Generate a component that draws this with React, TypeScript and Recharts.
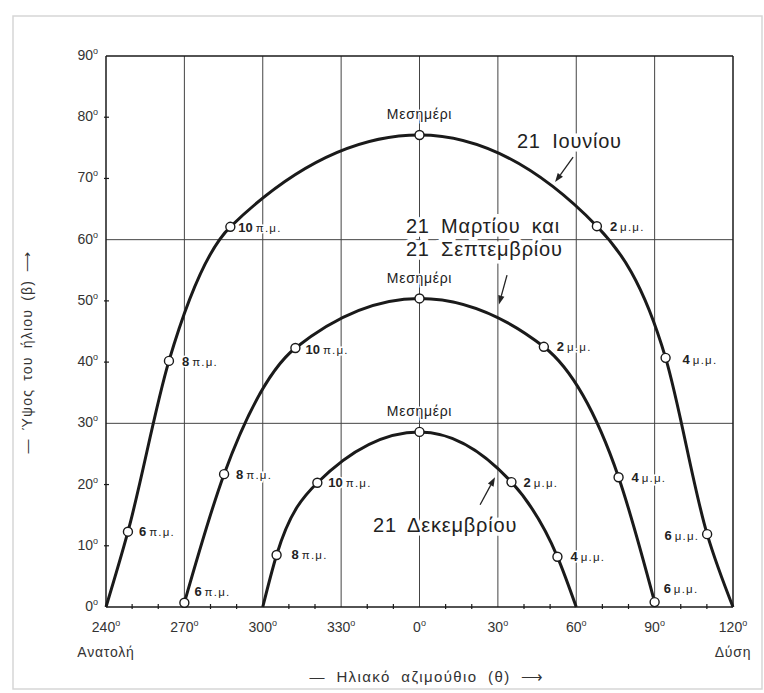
import React from 'react';
import { ComposedChart, Line, Scatter, XAxis, YAxis, ReferenceLine, ReferenceDot } from 'recharts';

const FONT = '"Liberation Sans", Arial, Helvetica, sans-serif';
const INK = '#1a1a1a';

// azimuth east of south is positive; 240°..360° are written as -120..0
const juneAz = [-120, -111.6, -95.9, -72.4, 0, 67.9, 94.2, 110.1, 120];
const juneAlt = [0, 12.3, 40.2, 62.1, 77.1, 62.2, 40.7, 11.9, 0];
const juneHours = ['', '6π.μ.', '8π.μ.', '10π.μ.', 'Μεσημέρι', '2μ.μ.', '4μ.μ.', '6μ.μ.', ''];

const equinoxAz = [-90, -74.8, -47.5, 0, 47.6, 76.2, 90];
const equinoxAlt = [0.7, 21.7, 42.3, 50.4, 42.5, 21.2, 0.8];
const equinoxHours = ['6π.μ.', '8π.μ.', '10π.μ.', 'Μεσημέρι', '2μ.μ.', '4μ.μ.', '6μ.μ.'];

const decAz = [-60, -54.7, -39.1, 0, 35.2, 52.8, 60];
const decAlt = [0, 8.5, 20.3, 28.6, 20.4, 8.2, 0];
const decHours = ['', '8π.μ.', '10π.μ.', 'Μεσημέρι', '2μ.μ.', '4μ.μ.', ''];

const xTicks = [-120, -110, -100, -90, -80, -70, -60, -50, -40, -30, -20, -10, 0, 10, 20, 30, 40, 50, 60, 70, 80, 90, 100, 110, 120];
const yTicks = [0, 10, 20, 30, 40, 50, 60, 70, 80, 90];
const gridAz = [-90, -60, -30, 0, 30, 60, 90];
const gridAlt = [30, 60];

const toRows = (az: number[], alt: number[], hours: string[]) =>
  az.map((a, i) => ({ az: a, alt: alt[i], hour: hours[i] }));

const juneRows = toRows(juneAz, juneAlt, juneHours);
const equinoxRows = toRows(equinoxAz, equinoxAlt, equinoxHours);
const decRows = toRows(decAz, decAlt, decHours);

// where the hour label sits next to its circle (px)
const labelPlace: Record<string, { dx: number; dy: number; anchor?: string }> = {
  'june:6π.μ.': { dx: 11, dy: 0 },
  'june:8π.μ.': { dx: 13, dy: 1 },
  'june:10π.μ.': { dx: 8, dy: 1 },
  'june:2μ.μ.': { dx: 13, dy: 0 },
  'june:4μ.μ.': { dx: 17, dy: 2 },
  'june:6μ.μ.': { dx: -8, dy: 1, anchor: 'end' },
  'eq:6π.μ.': { dx: 10, dy: -11 },
  'eq:8π.μ.': { dx: 12, dy: 0 },
  'eq:10π.μ.': { dx: 10, dy: 1 },
  'eq:2μ.μ.': { dx: 13, dy: 0 },
  'eq:4μ.μ.': { dx: 13, dy: 0 },
  'eq:6μ.μ.': { dx: 9, dy: -14 },
  'dec:8π.μ.': { dx: 15, dy: 0 },
  'dec:10π.μ.': { dx: 11, dy: 0 },
  'dec:2μ.μ.': { dx: 12, dy: 0 },
  'dec:4μ.μ.': { dx: 13, dy: 0 },
};

const degLabel = (v: number) => `${v < 0 ? v + 360 : v}`;

const BottomTick = (props: any) => {
  const { x, y, payload } = props;
  const v = payload.value;
  const major = v % 30 === 0;
  return (
    <g>
      {!major && <line x1={x} y1={y} x2={x} y2={y - 5} stroke={INK} strokeWidth={1.2} />}
      {major && (
        <text x={x} y={y + 23} textAnchor="middle" fontFamily={FONT} fontSize={14} fill="#333">
          {degLabel(v)}
          <tspan dy={-6} fontSize={9}>o</tspan>
        </text>
      )}
      {v === -120 && (
        <text x={x} y={y + 48} textAnchor="middle" fontFamily={FONT} fontSize={14} letterSpacing={0.8} fill="#333">
          Ανατολή
        </text>
      )}
      {v === 120 && (
        <text x={x} y={y + 48} textAnchor="middle" fontFamily={FONT} fontSize={14} letterSpacing={0.8} fill="#333">
          Δύση
        </text>
      )}
    </g>
  );
};

const TopTick = (props: any) => {
  const { x, y, payload } = props;
  if (payload.value % 30 === 0) return <g />;
  return <line x1={x} y1={y} x2={x} y2={y + 5} stroke={INK} strokeWidth={1.2} />;
};

const LeftTick = (props: any) => {
  const { x, y, payload } = props;
  return (
    <g>
      {payload.value % 30 !== 0 && <line x1={x} y1={y} x2={x + 5} y2={y} stroke={INK} strokeWidth={1.2} />}
      <text x={x - 6} y={y + 4} textAnchor="end" fontFamily={FONT} fontSize={14} fill="#333">
        {payload.value}
        <tspan dy={-6} fontSize={9}>o</tspan>
      </text>
    </g>
  );
};

const RightTick = (props: any) => {
  const { x, y, payload } = props;
  if (payload.value % 30 === 0) return <g />;
  return <line x1={x} y1={y} x2={x - 5} y2={y} stroke={INK} strokeWidth={1.2} />;
};

const hourMark = (curve: string) => (props: any) => {
  const { cx, cy, payload } = props;
  const hour: string = payload.hour;
  const noon = hour === 'Μεσημέρι';
  const place = noon ? { dx: 0, dy: -20, anchor: 'middle' } : labelPlace[`${curve}:${hour}`] || { dx: 12, dy: 0 };
  const m = hour.match(/^(\d+)(.*)$/);
  return (
    <g>
      <circle cx={cx} cy={cy} r={4.5} fill="#fff" stroke={INK} strokeWidth={1.4} />
      <text
        x={cx + place.dx}
        y={cy + place.dy + 4.5}
        textAnchor={place.anchor || 'start'}
        fontFamily={FONT}
        fill="#222"
        stroke="#fff"
        strokeWidth={3}
        paintOrder="stroke"
      >
        {noon || !m ? (
          <tspan fontSize={14} letterSpacing={0.7}>{hour}</tspan>
        ) : (
          <>
            <tspan fontSize={13} fontWeight="bold">{m[1]}</tspan>
            <tspan fontSize={11.5} dx={3} letterSpacing={1.2}>{m[2]}</tspan>
          </>
        )}
      </text>
    </g>
  );
};

const Arrow = (p: any) => {
  const { x1, y1, x2, y2 } = p;
  const a = Math.atan2(y2 - y1, x2 - x1);
  const bx = x2 - 9 * Math.cos(a);
  const by = y2 - 9 * Math.sin(a);
  const w = 3.2;
  const pts = `${x2},${y2} ${bx - w * Math.sin(a)},${by + w * Math.cos(a)} ${bx + w * Math.sin(a)},${by - w * Math.cos(a)}`;
  return (
    <g>
      <line x1={x1} y1={y1} x2={bx} y2={by} stroke="#222" strokeWidth={1.3} />
      <polygon points={pts} fill="#222" />
    </g>
  );
};

const noteText = (lines: string[]) => (p: any) => (
  <text
    x={p.cx}
    y={p.cy + 7}
    fontFamily={FONT}
    fontSize={20}
    letterSpacing={0.8}
    wordSpacing={5}
    fill="#222"
    stroke="#fff"
    strokeWidth={7}
    paintOrder="stroke"
  >
    {lines.map((l, i) => (
      <tspan key={i} x={p.cx} dy={i === 0 ? 0 : 23}>{l}</tspan>
    ))}
  </text>
);

export default function App() {
  return (
    <div style={{ position: 'absolute', left: 0, top: 0, width: 764, height: 693, background: '#fff' }}>
      <svg width={764} height={693} style={{ position: 'absolute', left: 0, top: 0 }}>
        <rect x={13} y={16} width={749} height={673} fill="none" stroke="#d6d6d6" strokeWidth={1.5} />
        <text
          transform="translate(32,352) rotate(-90)"
          textAnchor="middle"
          fontFamily={FONT}
          fontSize={14}
          letterSpacing={1.2}
          wordSpacing={3}
          fill="#333"
        >
          — Ύψος του ήλιου (β) ⟶
        </text>
        <text x={427} y={682} textAnchor="middle" fontFamily={FONT} fontSize={15} letterSpacing={1.4} wordSpacing={5} fill="#333">
          — Ηλιακό αζιμούθιο (θ) ⟶
        </text>
      </svg>
      <div style={{ position: 'absolute', left: 0, top: 0 }}>
        <ComposedChart width={764} height={693} margin={{ top: 55, right: 30, bottom: 85, left: 105 }}>
          <XAxis
            dataKey="az"
            type="number"
            domain={[-120, 120]}
            ticks={xTicks}
            interval={0}
            height={1}
            tickSize={0}
            tickLine={false}
            tick={<BottomTick />}
            axisLine={{ stroke: INK, strokeWidth: 1.5 }}
          />
          <XAxis
            xAxisId="top"
            orientation="top"
            dataKey="az"
            type="number"
            domain={[-120, 120]}
            ticks={xTicks}
            interval={0}
            height={1}
            tickSize={0}
            tickLine={false}
            tick={<TopTick />}
            axisLine={{ stroke: INK, strokeWidth: 1.5 }}
          />
          <YAxis
            dataKey="alt"
            type="number"
            domain={[0, 90]}
            ticks={yTicks}
            interval={0}
            width={1}
            tickSize={0}
            tickLine={false}
            tick={<LeftTick />}
            axisLine={{ stroke: INK, strokeWidth: 1.5 }}
          />
          <YAxis
            yAxisId="right"
            orientation="right"
            type="number"
            domain={[0, 90]}
            ticks={yTicks}
            interval={0}
            width={1}
            tickSize={0}
            tickLine={false}
            tick={<RightTick />}
            axisLine={{ stroke: INK, strokeWidth: 1.5 }}
          />

          {gridAz.map((v) => (
            <ReferenceLine key={`gx${v}`} x={v} stroke="#444" strokeWidth={1} />
          ))}
          {gridAlt.map((v) => (
            <ReferenceLine key={`gy${v}`} y={v} stroke="#444" strokeWidth={1} />
          ))}

          <ReferenceDot x={37.3} y={76.1} r={0} shape={noteText(['21 Ιουνίου'])} />
          <ReferenceDot x={-5.2} y={62.2} r={0} shape={noteText(['21 Μαρτίου και', '21 Σεπτεμβρίου'])} />
          <ReferenceDot x={-17.8} y={13.4} r={0} shape={noteText(['21 Δεκεμβρίου'])} />

          <ReferenceLine segment={[{ x: 58.8, y: 73.5 }, { x: 51.9, y: 69.4 }]} shape={Arrow} />
          <ReferenceLine segment={[{ x: 33.5, y: 54.2 }, { x: 30.4, y: 49.4 }]} shape={Arrow} />
          <ReferenceLine segment={[{ x: 23.2, y: 16.7 }, { x: 28.9, y: 21.2 }]} shape={Arrow} />

          <Line data={juneRows} dataKey="alt" type="monotone" stroke={INK} strokeWidth={3} dot={false} isAnimationActive={false} />
          <Line data={equinoxRows} dataKey="alt" type="monotone" stroke={INK} strokeWidth={3} dot={false} isAnimationActive={false} />
          <Line data={decRows} dataKey="alt" type="monotone" stroke={INK} strokeWidth={3} dot={false} isAnimationActive={false} />

          <Scatter data={juneRows.filter((r) => r.hour)} dataKey="alt" shape={hourMark('june')} isAnimationActive={false} />
          <Scatter data={equinoxRows.filter((r) => r.hour)} dataKey="alt" shape={hourMark('eq')} isAnimationActive={false} />
          <Scatter data={decRows.filter((r) => r.hour)} dataKey="alt" shape={hourMark('dec')} isAnimationActive={false} />
        </ComposedChart>
      </div>
    </div>
  );
}
